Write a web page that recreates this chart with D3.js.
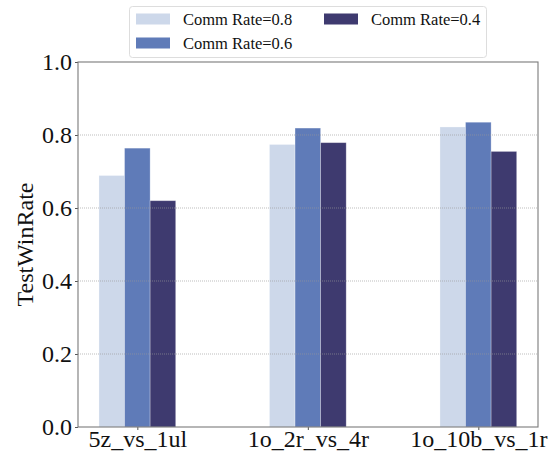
<!DOCTYPE html>
<html><head><meta charset="utf-8">
<script src="https://cdn.jsdelivr.net/npm/d3@7"></script>
<style>body{margin:0;background:#fff}svg{display:block}</style>
</head><body>
<svg id="c" width="559" height="455"></svg>
<script>
const categories = ["5z_vs_1ul", "1o_2r_vs_4r", "1o_10b_vs_1r"];
const seriesNames = ["Comm Rate=0.8", "Comm Rate=0.6", "Comm Rate=0.4"];
const rate08 = [0.689, 0.774, 0.822];
const rate06 = [0.764, 0.819, 0.835];
const rate04 = [0.620, 0.779, 0.755];
const yTicks = [0.0, 0.2, 0.4, 0.6, 0.8, 1.0];
const colors = ["#cdd8ea", "#5f7bb8", "#3e3a6f"];

const series = [rate08, rate06, rate04];
const svg = d3.select("#c");
const L = 78, R = 538, T = 62, B = 427;
const font = "'Liberation Serif','Times New Roman',serif";

const x = d3.scaleLinear().domain([-0.348, 2.35]).range([L, R]);
const y = d3.scaleLinear().domain([0, 1]).range([B, T]);
const bw = 0.15;

// bars
series.forEach((vals, si) => {
  svg.append("g").selectAll("rect").data(vals).join("rect")
    .attr("x", (d, i) => x(i + (si - 1.5) * bw))
    .attr("width", x(bw) - x(0))
    .attr("y", d => y(d))
    .attr("height", d => y(0) - y(d))
    .attr("fill", colors[si])
    .attr("stroke", "rgba(255,255,255,0.35)")
    .attr("stroke-width", 0.8);
});

// grid
svg.append("g").selectAll("line").data(yTicks.filter(t => t > 0 && t < 1)).join("line")
  .attr("x1", L).attr("x2", R)
  .attr("y1", d => y(d)).attr("y2", d => y(d))
  .attr("stroke", "#999").attr("stroke-width", 0.8)
  .attr("stroke-dasharray", "1,1").attr("opacity", 0.8);

// axes
const yAxis = d3.axisLeft(y).tickValues(yTicks).tickFormat(d3.format(".1f")).tickSize(3).tickPadding(3);
const gy = svg.append("g").attr("transform", `translate(${L},0)`).call(yAxis);
const xAxis = d3.axisBottom(x).tickValues([0, 1, 2]).tickFormat((d) => categories[d]).tickSize(3).tickPadding(3);
const gx = svg.append("g").attr("transform", `translate(0,${B})`).call(xAxis);
[gy, gx].forEach(g => {
  g.attr("font-family", null).attr("font-size", null);
  g.select(".domain").remove();
  g.selectAll(".tick line").attr("stroke", "#555");
  g.selectAll("text").attr("fill", "#111").attr("font-family", font).attr("font-size", 24);
});
gx.selectAll("text").attr("dy", null).attr("y", 20);

// frame
svg.append("rect").attr("x", L).attr("y", T).attr("width", R - L).attr("height", B - T)
  .attr("fill", "none").attr("stroke", "#7a7a7a").attr("stroke-width", 1.1);

// y label
svg.append("text").attr("transform", `translate(33,${(T + B) / 2}) rotate(-90)`)
  .attr("text-anchor", "middle").attr("font-family", font).attr("font-size", 24)
  .attr("fill", "#111").text("TestWinRate");

// legend
const lg = svg.append("g");
lg.append("rect").attr("x", 129.5).attr("y", 6.5).attr("width", 357).attr("height", 51)
  .attr("rx", 3).attr("fill", "#fff").attr("stroke", "#ddd");
const pos = [[136, 19], [136, 43], [324, 19]];
seriesNames.forEach((n, i) => {
  const [px, py] = pos[i];
  lg.append("rect").attr("x", px).attr("y", py - 5.5).attr("width", 34).attr("height", 11).attr("fill", colors[i]);
  lg.append("text").attr("x", px + 47).attr("y", py).attr("dy", "0.35em")
    .attr("font-family", font).attr("font-size", 16.5).attr("fill", "#111").text(n);
});
</script>
</body></html>
